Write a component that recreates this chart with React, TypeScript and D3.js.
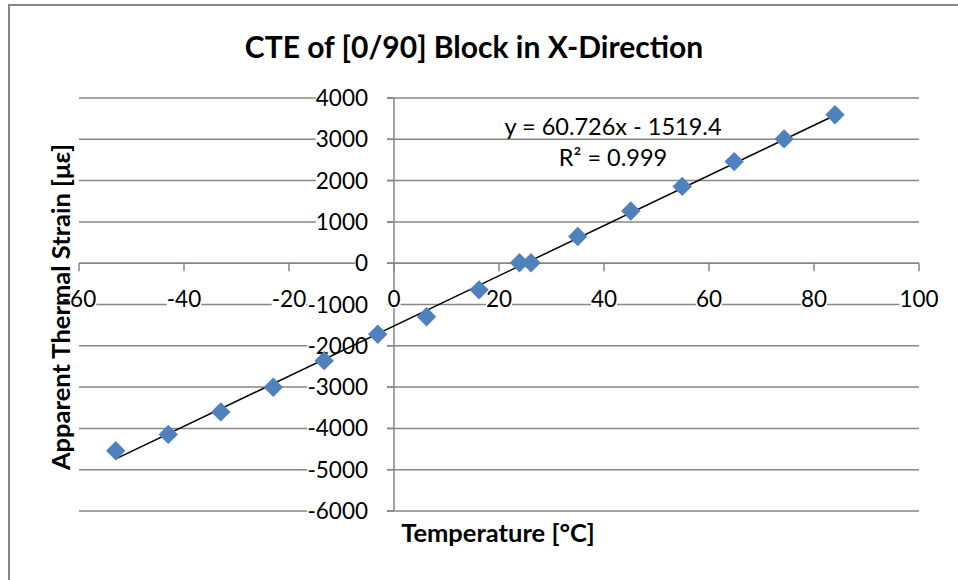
import React, { useEffect, useRef } from "react";
import * as d3 from "d3";

// 温度 [°C]
const temperatures = [-53.0, -43.0, -33.0, -23.0, -13.3, -3.1, 6.2, 16.2, 23.9, 26.1, 35.0, 45.1, 54.9, 64.8, 74.3, 84.0];
// 見かけの熱ひずみ [με]
const strains = [-4540, -4145, -3600, -3005, -2360, -1720, -1295, -645, 10, 10, 645, 1265, 1860, 2460, 3010, 3595];

const xTicks = [-60, -40, -20, 0, 20, 40, 60, 80, 100];
const yTicks = [-6000, -5000, -4000, -3000, -2000, -1000, 0, 1000, 2000, 3000, 4000];

const slope = 60.726;
const intercept = -1519.4;
const equationText = "y = 60.726x - 1519.4";
const r2Text = "R² = 0.999";

const title = "CTE of [0/90] Block in X-Direction";
const xLabel = "Temperature [°C]";
const yLabel = "Apparent Thermal Strain [με]";

const width = 958;
const height = 580;
const FONT = "Lato, 'Noto Sans', sans-serif";

export default function App() {
  const svgRef = useRef<SVGSVGElement>(null);

  useEffect(() => {
    if (!svgRef.current) return;
    const svg = d3.select(svgRef.current);
    svg.selectAll("*").remove();

    const x = d3.scaleLinear().domain([-60, 100]).range([79, 919]);
    const y = d3.scaleLinear().domain([-6000, 4000]).range([511, 98]);
    const gridColor = "#878787";

    // 外枠
    svg
      .append("rect")
      .attr("x", 9)
      .attr("y", 5)
      .attr("width", width)
      .attr("height", height)
      .attr("fill", "white")
      .attr("stroke", gridColor)
      .attr("stroke-width", 2);

    // グリッド線
    svg
      .append("g")
      .selectAll("line")
      .data(yTicks)
      .enter()
      .append("line")
      .attr("x1", x(-60))
      .attr("x2", x(100))
      .attr("y1", (d) => y(d))
      .attr("y2", (d) => y(d))
      .attr("stroke", gridColor)
      .attr("stroke-width", 1.5);

    // X軸
    const xAxis = svg.append("g");
    xAxis
      .append("line")
      .attr("x1", x(-60))
      .attr("x2", x(100))
      .attr("y1", y(0))
      .attr("y2", y(0))
      .attr("stroke", gridColor)
      .attr("stroke-width", 1.5);
    xAxis
      .selectAll(".xtick")
      .data(xTicks)
      .enter()
      .append("line")
      .attr("x1", (d) => x(d))
      .attr("x2", (d) => x(d))
      .attr("y1", y(0))
      .attr("y2", y(0) + 8)
      .attr("stroke", gridColor)
      .attr("stroke-width", 1.5);

    // Y軸
    const yAxis = svg.append("g");
    yAxis
      .append("line")
      .attr("x1", x(0))
      .attr("x2", x(0))
      .attr("y1", y(4000))
      .attr("y2", y(-6000))
      .attr("stroke", gridColor)
      .attr("stroke-width", 1.5);
    yAxis
      .selectAll(".ytick")
      .data(yTicks)
      .enter()
      .append("line")
      .attr("x1", x(0) - 7)
      .attr("x2", x(0))
      .attr("y1", (d) => y(d))
      .attr("y2", (d) => y(d))
      .attr("stroke", gridColor)
      .attr("stroke-width", 1.5);

    // 目盛りラベル（X）
    const xLab = svg.append("g").attr("font-family", FONT).attr("font-size", 22.5);
    xTicks.forEach((t) => {
      const txt = xLab
        .append("text")
        .attr("x", x(t))
        .attr("y", y(0) + 44)
        .attr("text-anchor", "middle")
        .attr("fill", "black")
        .text(t);
      const bb = (txt.node() as SVGTextElement).getBBox();
      xLab
        .insert("rect", () => txt.node() as any)
        .attr("x", bb.x)
        .attr("y", y(0) + 27)
        .attr("width", bb.width)
        .attr("height", 18)
        .attr("fill", "white");
    });

    // 目盛りラベル（Y）
    const yLab = svg.append("g").attr("font-family", FONT).attr("font-size", 22.5);
    yTicks.forEach((t) => {
      const txt = yLab
        .append("text")
        .attr("x", x(0) - 26)
        .attr("y", y(t) + 8)
        .attr("text-anchor", "end")
        .attr("fill", "black")
        .text(t);
      const bb = (txt.node() as SVGTextElement).getBBox();
      yLab
        .insert("rect", () => txt.node() as any)
        .attr("x", bb.x)
        .attr("y", y(t) - 9)
        .attr("width", x(0) - 7 - bb.x)
        .attr("height", 18)
        .attr("fill", "white");
    });

    // 近似直線
    const tMin = d3.min(temperatures) as number;
    const tMax = d3.max(temperatures) as number;
    const line = d3
      .line<number>()
      .x((d) => x(d))
      .y((d) => y(slope * d + intercept));
    svg
      .append("path")
      .datum([tMin, tMax])
      .attr("fill", "none")
      .attr("stroke", "black")
      .attr("stroke-width", 1.5)
      .attr("d", line);

    // データ点（ひし形）
    const diamond = d3.symbol().type(d3.symbolDiamond2).size(240);
    svg
      .append("g")
      .selectAll("path")
      .data(temperatures.map((t, i) => [t, strains[i]]))
      .enter()
      .append("path")
      .attr("d", diamond)
      .attr("transform", (d) => `translate(${x(d[0])},${y(d[1])})`)
      .attr("fill", "#4F81BD");

    // 近似式
    svg
      .append("text")
      .attr("x", 613)
      .attr("y", 135)
      .attr("text-anchor", "middle")
      .attr("font-family", FONT)
      .attr("font-size", 23.5)
      .text(equationText);
    svg
      .append("text")
      .attr("x", 613)
      .attr("y", 166)
      .attr("text-anchor", "middle")
      .attr("font-family", FONT)
      .attr("font-size", 23.5)
      .text(r2Text);

    // タイトル
    svg
      .append("text")
      .attr("x", 474)
      .attr("y", 58)
      .attr("text-anchor", "middle")
      .attr("font-family", FONT)
      .attr("font-size", 30)
      .attr("font-weight", "bold")
      .text(title);

    // X軸ラベル
    svg
      .append("text")
      .attr("x", 498)
      .attr("y", 542)
      .attr("text-anchor", "middle")
      .attr("font-family", FONT)
      .attr("font-size", 25.5)
      .attr("font-weight", "bold")
      .text(xLabel);

    // Y軸ラベル
    svg
      .append("text")
      .attr("transform", "rotate(-90)")
      .attr("x", -307)
      .attr("y", 70)
      .attr("text-anchor", "middle")
      .attr("font-family", FONT)
      .attr("font-size", 25.5)
      .attr("font-weight", "bold")
      .text(yLabel);
  }, []);

  return (
    <svg
      ref={svgRef}
      width={width}
      height={height}
      style={{ position: "absolute", left: 0, top: 0, background: "white" }}
    />
  );
}
